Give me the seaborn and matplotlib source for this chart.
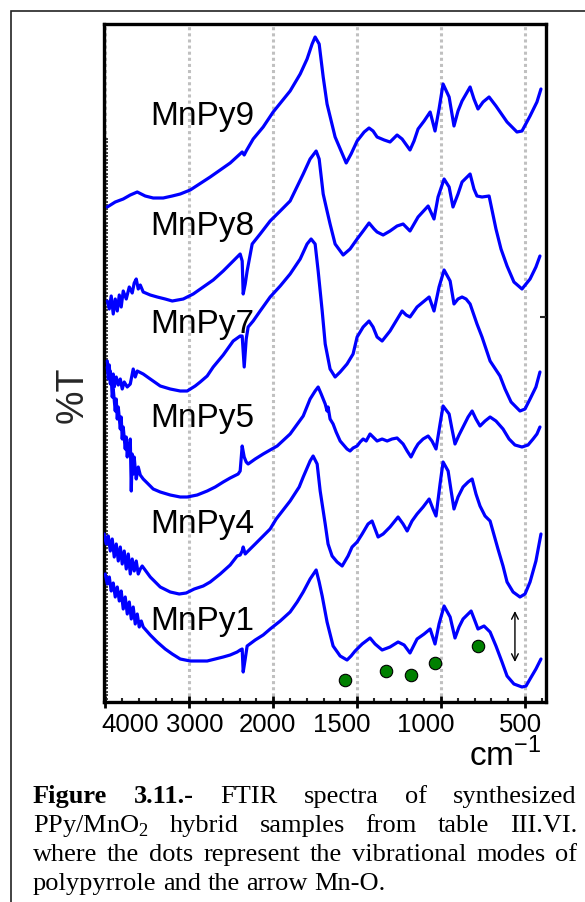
import numpy as np
import pandas as pd
import matplotlib
matplotlib.use("Agg")
import matplotlib.pyplot as plt
import seaborn as sns
from matplotlib.patches import Rectangle
from matplotlib.transforms import ScaledTranslation

# ---------------- data ----------------
samples = ["MnPy9", "MnPy8", "MnPy7", "MnPy5", "MnPy4", "MnPy1"]

wn_mnpy9 = [3976, 3881, 3786, 3702, 3619, 3524, 3429, 3310, 3202, 3107, 2988, 2750, 2512, 2369, 2345,
            2321, 2238, 2119, 2000, 1899, 1839, 1798, 1768, 1750, 1726, 1702, 1679, 1631, 1565, 1536,
            1500, 1458, 1429, 1405, 1381, 1339, 1304, 1262, 1232, 1185, 1161, 1137, 1101, 1065, 1036,
            1012, 988, 952, 923, 899, 875, 827, 804, 780, 750, 714, 673, 607, 548, 518, 470, 429, 405]
t_mnpy9 = [495, 500, 503, 507, 510, 506, 504, 504, 506, 508, 512, 525, 539, 550, 547,
           551, 563, 575, 590, 611, 628, 643, 658, 665, 658, 625, 598, 565, 539, 548,
           561, 570, 574, 571, 565, 562, 560, 567, 563, 552, 561, 573, 581, 590, 571,
           593, 618, 605, 576, 591, 601, 615, 603, 593, 600, 605, 596, 580, 570, 571, 586, 600, 613]

wn_mnpy8 = [3976, 3952, 3929, 3905, 3881, 3857, 3833, 3810, 3786, 3750, 3714, 3679, 3655, 3631, 3607,
            3583, 3548, 3464, 3381, 3286, 3202, 3071, 2952, 2833, 2714, 2595, 2476, 2393, 2369, 2357,
            2333, 2310, 2250, 2155, 2036, 1958, 1899, 1821, 1780, 1744, 1726, 1702, 1679, 1661, 1631,
            1583, 1542, 1500, 1464, 1429, 1399, 1381, 1345, 1304, 1262, 1226, 1185, 1161, 1137, 1077,
            1042, 1018, 1006, 982, 952, 929, 899, 875, 827, 804, 786, 756, 714, 673, 643, 607, 566,
            518, 470, 435, 411]
t_mnpy8 = [401, 393, 406, 388, 403, 391, 407, 395, 411, 403, 415, 409, 419, 423, 413,
           417, 410, 407, 405, 403, 401, 403, 408, 415, 422, 431, 441, 448, 441, 408,
           418, 431, 458, 468, 481, 491, 501, 528, 543, 551, 543, 508, 491, 478, 458,
           447, 453, 463, 471, 479, 473, 470, 467, 471, 476, 478, 471, 478, 485, 496,
           483, 505, 511, 523, 515, 495, 508, 520, 528, 513, 506, 505, 506, 473, 453, 436, 420,
           413, 423, 435, 446]

wn_mnpy7 = [3976, 3964, 3940, 3929, 3905, 3893, 3869, 3845, 3821, 3798, 3774, 3738, 3702, 3667, 3643,
            3619, 3548, 3464, 3345, 3226, 3107, 3024, 2929, 2869, 2786, 2714, 2595, 2476, 2393, 2369,
            2345, 2321, 2298, 2238, 2155, 2036, 1958, 1899, 1839, 1798, 1774, 1750, 1732, 1708, 1690,
            1661, 1631, 1601, 1560, 1524, 1500, 1464, 1429, 1405, 1381, 1351, 1304, 1268, 1232, 1208,
            1185, 1143, 1107, 1071, 1042, 1012, 982, 946, 923, 899, 875, 851, 827, 786, 756, 708,
            649, 619, 583, 530, 500, 470, 435, 411]
t_mnpy7 = [335, 323, 331, 318, 328, 315, 325, 317, 323, 313, 320, 315, 318, 333, 325,
           331, 328, 323, 316, 313, 311, 311, 316, 320, 326, 335, 347, 361, 366, 366,
           335, 363, 375, 381, 391, 405, 416, 428, 443, 458, 463, 458, 431, 391, 358,
           333, 325, 330, 338, 348, 365, 375, 381, 375, 365, 361, 371, 381, 391, 387,
           385, 395, 400, 405, 391, 415, 432, 421, 398, 403, 405, 403, 398, 378, 365, 341,
           326, 313, 300, 291, 293, 303, 315, 330]

wn_mnpy5 = [3976, 3964, 3952, 3940, 3929, 3917, 3905, 3881, 3869, 3857, 3845, 3821, 3810, 3798, 3786,
            3762, 3750, 3738, 3726, 3714, 3702, 3690, 3679, 3667, 3655, 3643, 3631, 3607, 3583, 3548,
            3500, 3429, 3345, 3226, 3107, 3024, 2905, 2786, 2690, 2595, 2512, 2417, 2393, 2369, 2345,
            2321, 2298, 2214, 2119, 2036, 1976, 1899, 1821, 1780, 1750, 1732, 1714, 1702, 1690, 1679,
            1673, 1661, 1643, 1625, 1601, 1560, 1542, 1524, 1500, 1482, 1464, 1446, 1423, 1405, 1381,
            1351, 1321, 1292, 1262, 1226, 1202, 1179, 1155, 1137, 1107, 1077, 1054, 1030, 1006, 988,
            952, 935, 917, 893, 869, 839, 815, 792, 768, 738, 708, 673, 631, 595, 560, 518, 482, 452,
            429, 411]
t_mnpy5 = [341, 331, 337, 318, 325, 305, 313, 291, 303, 283, 295, 273, 285, 263, 275,
           253, 265, 245, 258, 248, 263, 211, 248, 228, 245, 233, 223, 235, 227, 223,
           219, 213, 210, 207, 205, 205, 207, 211, 215, 220, 224, 228, 231, 256, 245,
           240, 238, 243, 248, 252, 256, 268, 286, 303, 311, 315, 308, 303, 298, 291,
           295, 283, 278, 270, 261, 253, 251, 254, 256, 260, 263, 261, 268, 265, 261,
           263, 261, 263, 264, 258, 251, 245, 253, 258, 263, 266, 261, 253, 278, 296,
           288, 273, 258, 267, 275, 285, 291, 283, 276, 281, 285, 281, 273, 263, 257, 255, 257, 263,
           268, 275]

wn_mnpy4 = [4012, 3988, 3964, 3940, 3917, 3893, 3869, 3845, 3821, 3798, 3774, 3750, 3726, 3702, 3679,
            3655, 3631, 3607, 3583, 3560, 3464, 3345, 3226, 3119, 3036, 2940, 2833, 2750, 2631, 2512,
            2429, 2393, 2369, 2357, 2333, 2310, 2214, 2119, 2036, 1982, 1899, 1845, 1821, 1780, 1762,
            1738, 1720, 1690, 1673, 1649, 1619, 1589, 1554, 1530, 1500, 1470, 1435, 1411, 1375, 1345,
            1304, 1256, 1226, 1202, 1173, 1143, 1107, 1071, 1048, 1030, 1006, 988, 958, 940, 923,
            899, 869, 839, 815, 792, 768, 738, 708, 661, 631, 607, 571, 530, 500, 470, 435, 405]
t_mnpy4 = [168, 158, 166, 151, 163, 145, 158, 141, 155, 138, 151, 133, 148, 128, 143,
           131, 141, 128, 133, 136, 125, 115, 110, 108, 109, 113, 116, 120, 128, 137,
           146, 147, 151, 155, 148, 150, 158, 166, 173, 183, 201, 215, 225, 241, 246,
           238, 211, 178, 158, 146, 140, 136, 146, 155, 160, 168, 178, 181, 165, 168,
           175, 185, 178, 171, 181, 188, 195, 203, 193, 186, 218, 240, 231, 211, 193,
           205, 215, 220, 223, 208, 196, 186, 181, 153, 136, 120, 110, 105, 108, 120, 141, 168]

wn_mnpy1 = [4000, 3976, 3952, 3929, 3905, 3881, 3857, 3833, 3810, 3786, 3762, 3738, 3714, 3690, 3667,
            3643, 3619, 3595, 3571, 3548, 3464, 3381, 3286, 3202, 3107, 2988, 2905, 2786, 2690, 2595,
            2512, 2429, 2393, 2369, 2357, 2333, 2310, 2214, 2119, 2036, 1958, 1899, 1857, 1821, 1780,
            1744, 1726, 1708, 1679, 1643, 1601, 1560, 1536, 1512, 1470, 1423, 1393, 1351, 1304, 1256,
            1220, 1185, 1143, 1101, 1065, 1036, 1012, 982, 946, 917, 893, 869, 821, 798, 780, 744,
            708, 673, 637, 607, 566, 518, 494, 470, 435, 405]
t_mnpy1 = [128, 118, 125, 111, 119, 105, 115, 101, 111, 93, 105, 88, 100, 83, 95,
           78, 88, 75, 81, 75, 67, 60, 53, 48, 43, 41, 41, 41, 43, 45,
           47, 50, 52, 53, 30, 43, 56, 62, 67, 73, 81, 90, 100, 110, 123,
           132, 120, 106, 80, 56, 46, 42, 46, 51, 58, 64, 58, 52, 55, 60,
           57, 49, 63, 68, 73, 58, 78, 96, 85, 64, 75, 83, 91, 81, 73, 76,
           70, 56, 40, 26, 18, 15, 16, 23, 33, 43]

# polypyrrole vibrational modes (dots) and Mn-O band (arrow)
dot_wn = [1571, 1327, 1179, 1036, 780]
dot_t = [22, 31, 27, 39, 56]
arrow_wn = 560
arrow_t = [40, 91]

# label placement (wavenumber of left edge, baseline height)
label_wn = 3464
label_t = [578, 468, 370, 276, 170, 73]

tick_values = [4000, 3000, 2000, 1500, 1000, 500]
tick_labels = ["4000", "3000", "2000", "1500", "1000", "500"]
minor_ticks = [3800, 3600, 3400, 3200, 2800, 2600, 2400, 2200, 1900, 1800, 1700, 1600,
               1400, 1300, 1200, 1100, 900, 800, 700, 600, 400]

caption_lines = [
    [("Figure", "bold"), ("3.11.-", "bold"), ("FTIR", "normal"), ("spectra", "normal"),
     ("of", "normal"), ("synthesized", "normal")],
    [("PPy/MnO$_{\\mathregular{2}}$", "normal"), ("hybrid", "normal"), ("samples", "normal"),
     ("from", "normal"), ("table", "normal"), ("III.VI.", "normal")],
    [("where", "normal"), ("the", "normal"), ("dots", "normal"), ("represent", "normal"),
     ("the", "normal"), ("vibrational", "normal"), ("modes", "normal"), ("of", "normal")],
    [("polypyrrole", "normal"), ("and", "normal"), ("the", "normal"), ("arrow", "normal"),
     ("Mn-O.", "normal")],
]

# ---------------- build long-form table ----------------
wn_all = [wn_mnpy9, wn_mnpy8, wn_mnpy7, wn_mnpy5, wn_mnpy4, wn_mnpy1]
t_all = [t_mnpy9, t_mnpy8, t_mnpy7, t_mnpy5, t_mnpy4, t_mnpy1]
frames = []
for name, w, t in zip(samples, wn_all, t_all):
    frames.append(pd.DataFrame({"wavenumber": w, "T": t, "sample": name}))
df = pd.concat(frames, ignore_index=True)

# ---------------- figure ----------------
sns.set_theme(style="white")
plt.rcParams["font.family"] = ["Liberation Sans", "DejaVu Sans"]

W, H = 585, 903
fig = plt.figure(figsize=(W / 100, H / 100), dpi=100)
ax = fig.add_axes([104 / W, 1 - 703 / H, 442 / W, 678 / H])

sns.lineplot(data=df, x="wavenumber", y="T", units="sample", estimator=None, sort=False,
             color="#0000ff", linewidth=2.3, ax=ax, legend=False, zorder=3)
sns.scatterplot(x=dot_wn, y=dot_t, color="#008000", edgecolor="black", linewidth=0.8,
                s=80, ax=ax, zorder=4, legend=False)
ax.annotate("", xy=(arrow_wn, arrow_t[0]), xytext=(arrow_wn, arrow_t[1]),
            arrowprops=dict(arrowstyle="<->", color="black", lw=1.0, mutation_scale=12,
                            shrinkA=0, shrinkB=0), zorder=4)


def fwd(x):
    x = np.asarray(x, dtype=float)
    return np.where(x > 2000, 2000 + (x - 2000) / 2.0, x)


def inv(u):
    u = np.asarray(u, dtype=float)
    return np.where(u > 2000, 2000 + (u - 2000) * 2.0, u)


ax.set_xscale("function", functions=(fwd, inv))
ax.set_xlim(4015, 375)
ax.set_ylim(0, 678)

ax.set_xticks(tick_values)
ax.set_xticklabels(tick_labels)
ax.set_xticks(minor_ticks, minor=True)
ax.set_yticks([])
ax.set_yticks(np.arange(0, 567, 3.5), minor=True)
ax.set_xlabel("")
ax.set_ylabel("%T", fontsize=27, va="center")
ax.yaxis.set_label_coords(-0.07, 0.454)

ax.tick_params(axis="x", which="major", bottom=True, direction="inout", length=8, width=2,
               labelsize=18.5, pad=3, colors="black")
ax.tick_params(axis="x", which="minor", bottom=True, direction="in", length=3, width=1.5)
ax.tick_params(axis="y", which="minor", left=True, direction="in", length=3, width=1.2)

ax.xaxis.grid(True, which="major", color="#c0c0c0", linestyle=(0, (1, 1)), linewidth=2.2)
ax.yaxis.grid(False)
ax.set_axisbelow(True)
for s in ax.spines.values():
    s.set_linewidth(2.4)
    s.set_color("black")

# single small tick on the right spine
ax_r = ax.twinx()
ax_r.set_ylim(ax.get_ylim())
ax_r.set_yticks([385])
ax_r.set_yticklabels([""])
ax_r.tick_params(axis="y", right=True, direction="in", length=4, width=1.5)
ax_r.grid(False)
for s in ax_r.spines.values():
    s.set_visible(False)

# tick labels sit a little off their ticks in the original
for lab, dx in zip(ax.get_xticklabels(), [25, 6, -6, -15, -15, -5]):
    lab.set_transform(lab.get_transform() + ScaledTranslation(dx / 100, 0, fig.dpi_scale_trans))

for name, yv in zip(samples, label_t):
    ax.text(label_wn, yv, name, fontsize=24, ha="left", va="baseline", color="black", zorder=5)

fig.text(541 / W, 1 - 766 / H, "cm$^{\\mathregular{-1}}$", ha="right", va="baseline",
         fontsize=24, color="black")

# outer frame around figure + caption
fig.add_artist(Rectangle((11 / W, -0.05), 1.0, 1 - 12 / H + 0.05, transform=fig.transFigure,
                         fill=False, edgecolor="#222222", linewidth=1.2))

# justified caption
renderer = fig.canvas.get_renderer()
x0, x1 = 33, 577
baselines = [803, 832, 861, 890]
for li, (words, base) in enumerate(zip(caption_lines, baselines)):
    texts = []
    widths = []
    for w, wt in words:
        t = fig.text(0, 0, w, fontsize=19, fontweight=wt, ha="left", va="baseline",
                     family=["Liberation Serif", "DejaVu Serif"], color="black")
        bb = t.get_window_extent(renderer)
        texts.append(t)
        widths.append(bb.width)
    if li < len(caption_lines) - 1:
        gap = (x1 - x0 - sum(widths)) / (len(words) - 1)
    else:
        gap = 0.25 * 19 * 100 / 72
    x = x0
    for t, wd in zip(texts, widths):
        t.set_position((x / W, 1 - base / H))
        x += wd + gap

fig.savefig("out.png", dpi=100)
